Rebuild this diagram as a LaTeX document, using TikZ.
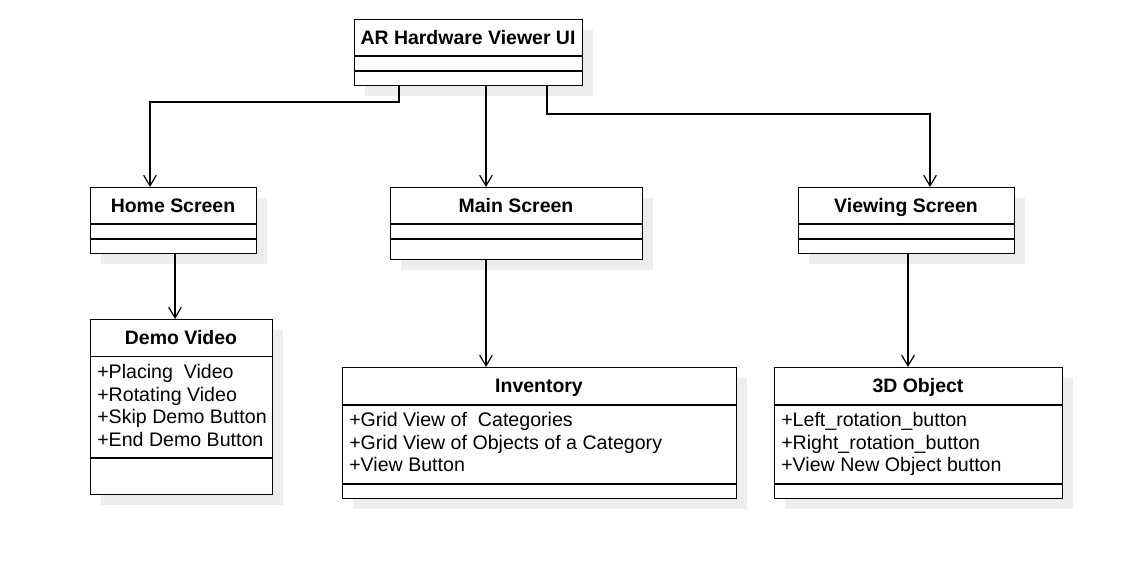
\documentclass[tikz,border=0pt]{standalone}
\usepackage{fontspec}
\setmainfont{Liberation Sans}
\usetikzlibrary{arrows.meta,shadows}

\tikzstyle{classbox} = [rectangle, anchor=north west, inner sep=0pt, draw=black, line width=0.9pt, fill=white, drop shadow={shadow xshift=7.5pt, shadow yshift=-7.5pt, fill=black!7, opacity=1}]
\tikzstyle{titletext} = [inner sep=0pt, anchor=base, font=\fontsize{14.6}{17}\selectfont\bfseries]
\tikzstyle{attrtext} = [inner sep=0pt, anchor=north west, align=left, font=\fontsize{14.7}{16.9}\selectfont]
\tikzstyle{divider} = [draw=black, line width=0.9pt]
\tikzstyle{flow} = [->, >={Straight Barb[length=8pt,width=9.5pt]}, draw=black, line width=0.9pt]

\begin{document}
\begin{tikzpicture}[x=0.75pt, y=-0.75pt]
    \useasboundingbox (0,0) rectangle (1124,583);

    % top class
    \node (ui) [classbox, minimum width=171pt, minimum height=49.5pt] at (354,19) {};
    \draw [divider] (354,56) -- (582,56);
    \draw [divider] (354,71) -- (582,71);
    \node (uititle) [titletext] at (468,44) {AR Hardware Viewer UI};

    % screens
    \node (home) [classbox, minimum width=124.5pt, minimum height=49.5pt] at (90,187) {};
    \draw [divider] (90,224) -- (256,224);
    \draw [divider] (90,239) -- (256,239);
    \node (hometitle) [titletext] at (173,212) {Home Screen};

    \node (main) [classbox, minimum width=189pt, minimum height=54pt] at (390,187) {};
    \draw [divider] (390,224) -- (642,224);
    \draw [divider] (390,239) -- (642,239);
    \node (maintitle) [titletext] at (516,212) {Main Screen};

    \node (view) [classbox, minimum width=162pt, minimum height=49.5pt] at (798,187) {};
    \draw [divider] (798,224) -- (1014,224);
    \draw [divider] (798,239) -- (1014,239);
    \node (viewtitle) [titletext] at (906,212) {Viewing Screen};

    % leaf classes
    \node (demo) [classbox, minimum width=136.5pt, minimum height=131.25pt] at (90,319) {};
    \draw [divider] (90,356.5) -- (272,356.5);
    \draw [divider] (90,458) -- (272,458);
    \node (demotitle) [titletext] at (181,344) {Demo Video};
    \node (demoattr) [attrtext] at (97,364) {+Placing\ \ Video\\+Rotating Video\\+Skip Demo Button\\+End Demo Button};

    \node (inv) [classbox, minimum width=295.5pt, minimum height=98.25pt] at (342,367) {};
    \draw [divider] (342,405) -- (736,405);
    \draw [divider] (342,484) -- (736,484);
    \node (invtitle) [titletext] at (539,392.5) {Inventory};
    \node (invattr) [attrtext] at (349,412) {+Grid View of\ \ Categories\\+Grid View of Objects of a Category\\+View Button};

    \node (obj) [classbox, minimum width=216pt, minimum height=98.25pt] at (774,367) {};
    \draw [divider] (774,405) -- (1062,405);
    \draw [divider] (774,484) -- (1062,484);
    \node (objtitle) [titletext] at (918,392.5) {3D Object};
    \node (objattr) [attrtext] at (781,412) {+Left\_rotation\_button\\+Right\_rotation\_button\\+View New Object button};

    % connectors
    \draw [flow] (ui.south -| 399,0) -- (399,102) -| (home.north -| 150,0);
    \draw [flow] (ui.south -| 486,0) -- (main.north -| 486,0);
    \draw [flow] (ui.south -| 547,0) -- (547,114) -| (view.north -| 930,0);
    \draw [flow] (home.south -| 175,0) -- (demo.north -| 175,0);
    \draw [flow] (main.south -| 486,0) -- (inv.north -| 486,0);
    \draw [flow] (view.south -| 908,0) -- (obj.north -| 908,0);
\end{tikzpicture}
\end{document}
